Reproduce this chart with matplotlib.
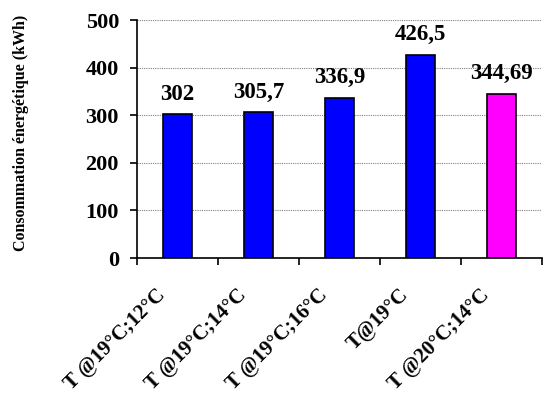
import matplotlib
matplotlib.use("Agg")
import matplotlib.pyplot as plt
import matplotlib.transforms as mtransforms

# données
categories = ["T @19°C;12°C", "T @19°C;14°C", "T @19°C;16°C", "T@19°C", "T @20°C;14°C"]
values = [302, 305.7, 336.9, 426.5, 344.69]
value_labels = ["302", "305,7", "336,9", "426,5", "344,69"]
colors = ["#0000FF", "#0000FF", "#0000FF", "#0000FF", "#FF00FF"]
yticks = [0, 100, 200, 300, 400, 500]

plt.rcParams["font.family"] = ["Liberation Serif", "DejaVu Serif"]
plt.rcParams["font.weight"] = "bold"

fig = plt.figure(figsize=(5.43, 3.96), dpi=100)
ax = fig.add_axes([137 / 543, 1 - 258 / 396, 405 / 543, 238 / 396])

x = list(range(len(categories)))
ax.bar(x, values, width=0.37, color=colors, edgecolor="black", linewidth=1.2, zorder=3)

for xi, v, lab in zip(x, values, value_labels):
    ax.annotate(lab, (xi, v), xytext=(0, 7), textcoords="offset points",
                ha="center", va="bottom", fontsize=16.5, fontweight="bold")

ax.set_xlim(-0.5, len(categories) - 0.5)
ax.set_ylim(0, 500)
ax.set_yticks(yticks)
ax.set_yticklabels([str(t) for t in yticks], fontsize=16, fontweight="bold")
ax.yaxis.grid(True, linestyle=(0, (1, 1)), color="#808080", linewidth=0.8, zorder=0)

# ticks aux limites de catégories
ax.set_xticks([i - 0.5 for i in range(len(categories) + 1)])
ax.set_xticklabels([])
ax.set_xticks(x, minor=True)
ax.set_xticklabels(categories, minor=True, rotation=45, ha="right", va="center",
                   rotation_mode="anchor", fontsize=15, fontweight="bold")
ax.tick_params(axis="x", which="minor", length=0, pad=0)
ax.tick_params(axis="x", which="major", direction="out", length=5, width=1.2)
ax.tick_params(axis="y", direction="out", length=5, width=1.2, pad=8)

shift = mtransforms.ScaledTranslation(-0.15, -0.34, fig.dpi_scale_trans)
for lab in ax.get_xticklabels(minor=True):
    lab.set_transform(lab.get_transform() + shift)

ax.spines["top"].set_visible(False)
ax.spines["right"].set_visible(False)
ax.spines["left"].set_linewidth(1.2)
ax.spines["bottom"].set_linewidth(1.2)

ax.set_ylabel("Consommation énergétique (kWh)", fontsize=11.5, fontweight="bold")
ax.yaxis.set_label_coords(29 / 543, 1 - 133 / 396, transform=fig.transFigure)

fig.savefig("out.png", dpi=100)
